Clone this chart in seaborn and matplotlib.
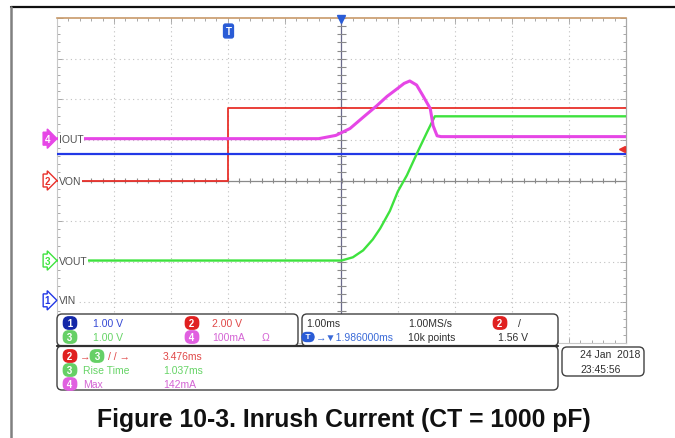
import numpy as np
import pandas as pd
import matplotlib
matplotlib.use("Agg")
import matplotlib.pyplot as plt
from matplotlib.patches import FancyBboxPatch
from matplotlib.lines import Line2D
from matplotlib.transforms import IdentityTransform
import seaborn as sns

# ---- captured waveforms (time in ms relative to trigger position) ----
von_t = [-5.0, -1.986, -1.986, 5.0]
von_v = [0.0, 0.0, 3.58, 3.58]                     # V, CH2

vin_t = [-5.0, 5.0]
vin_v = [3.60, 3.60]                               # V, CH1

vout_t = [-5.0, 0.0, 0.20, 0.38, 0.55, 0.68, 0.85, 0.99, 1.15, 1.34, 1.50, 1.64, 5.0]
vout_v = [0.0, 0.0, 0.08, 0.25, 0.52, 0.79, 1.22, 1.70, 2.10, 2.68, 3.15, 3.55, 3.55]  # V, CH3

iout_t = [-5.0, -0.40, -0.10, 0.15, 0.40, 0.62, 0.80, 0.98, 1.10, 1.20, 1.32, 1.43, 1.56, 1.61, 1.68, 1.75, 5.0]
iout_i = [0.0, 0.0, 8.0, 25.0, 55.0, 81.0, 104.0, 123.0, 136.0, 142.0, 132.0, 106.0, 74.0, 32.0, 7.0, 5.0, 5.0]  # mA, CH4

# channel settings: (scale per division, ground offset in divisions)
ch_scale = {"VIN": 1.00, "VON": 2.00, "VOUT": 1.00, "IOUT": 100.0}
ch_offset = {"VIN": -2.95, "VON": 0.0, "VOUT": -1.97, "IOUT": 1.03}
trig_level = 1.56     # V on CH2
trig_delay = -1.986   # ms

colors = {"VIN": "#2238e6", "VON": "#e8302a", "VOUT": "#3ee23e", "IOUT": "#e646e6"}
text_colors = {"VIN": "#3448d4", "VON": "#e04848", "VOUT": "#66d466", "IOUT": "#d464d4"}

sns.set_theme(style="white")
plt.rcParams["font.family"] = ["Liberation Sans", "DejaVu Sans"]

W, H = 675, 439
fig = plt.figure(figsize=(W / 100, H / 100), dpi=100)
fig.patch.set_facecolor("white")

# screen area in pixels
L, R, T, B = 57, 626, 19, 344
ax = fig.add_axes([L / W, 1 - B / H, (R - L) / W, (B - T) / H])
ax.set_xlim(-5, 5)
ax.set_ylim(-4, 4)
ax.set_facecolor("white")

# graticule
for xv in np.arange(-4, 5, 1):
    if xv != 0:
        ax.axvline(xv, color="#c0c0c0", lw=0.8, ls=(0, (1, 3)), zorder=1)
for yv in np.arange(-3, 4, 1):
    if yv != 0:
        ax.axhline(yv, color="#c0c0c0", lw=0.8, ls=(0, (1, 3)), zorder=1)
ax.axhline(0, color="#8a8a8a", lw=0.9, zorder=1)
ax.axvline(0, color="#6a6a8a", lw=0.9, zorder=1)
tx = np.arange(-5, 5.01, 0.2)
ty = np.arange(-4, 4.01, 0.2)
ax.vlines(tx, -0.06, 0.06, color="#8a8a8a", lw=0.8, zorder=1)
ax.hlines(ty, -0.08, 0.08, color="#8a8a8a", lw=0.8, zorder=1)
ax.set_xticks(np.arange(-5, 5.01, 1))
ax.set_yticks(np.arange(-4, 4.01, 1))
ax.set_xticks(tx, minor=True)
ax.set_yticks(ty, minor=True)
ax.tick_params(which="both", direction="in", top=True, right=True, bottom=True, left=True,
               labelbottom=False, labelleft=False, color="#a8a8a8", width=0.7)
ax.tick_params(which="major", length=4)
ax.tick_params(which="minor", length=2)
for side in ["left", "bottom"]:
    ax.spines[side].set_color("#c8c8c8")
    ax.spines[side].set_linewidth(0.8)
ax.spines["right"].set_color("#a8a8a8")
ax.spines["right"].set_linewidth(0.9)
ax.spines["top"].set_color("#c89a6a")
ax.spines["top"].set_linewidth(1.2)


def to_div(name, vals):
    return np.asarray(vals, dtype=float) / ch_scale[name] + ch_offset[name]


traces = [("VON", von_t, von_v, 1.3), ("VIN", vin_t, vin_v, 1.6),
          ("VOUT", vout_t, vout_v, 1.7), ("IOUT", iout_t, iout_i, 2.2)]
for name, t, v, lw in traces:
    df = pd.DataFrame({"t": t, "div": to_div(name, v)})
    sns.lineplot(data=df, x="t", y="div", ax=ax, color=colors[name], lw=lw,
                 estimator=None, sort=False, zorder=3)
ax.set_xlabel("")
ax.set_ylabel("")

# channel ground markers and names
badge_x = -5.17
for name, num, filled in [("IOUT", "4", True), ("VON", "2", False),
                          ("VOUT", "3", False), ("VIN", "1", False)]:
    y = ch_offset[name]
    fc = colors[name] if filled else "white"
    tc = "white" if filled else colors[name]
    ax.text(badge_x, y, num, color=tc, fontsize=7, fontweight="bold", ha="center", va="center",
            clip_on=False, zorder=5,
            bbox=dict(boxstyle="rarrow,pad=0.15", fc=fc, ec=colors[name], lw=1.0))
    ax.text(-4.97, y, name, color="#505050", fontsize=7.5, ha="left", va="center",
            zorder=5, bbox=dict(boxstyle="square,pad=0.1", fc="white", ec="none"))

# trigger position marker and trigger level marker
ax.text(trig_delay, 3.68, "T", color="white", fontsize=7, fontweight="bold", ha="center",
        va="center", zorder=5, bbox=dict(boxstyle="round,pad=0.2", fc="#2a5cd6", ec="#2a5cd6"))
ax.plot([0], [3.97], marker="v", color="#2a5cd6", ms=6, clip_on=False, zorder=5)
ax.plot([4.93], [trig_level / ch_scale["VON"] + ch_offset["VON"]], marker="<", color="#e8302a",
        ms=5, clip_on=False, zorder=5)

# ---- readout panels (pixel coordinates) ----
pix = IdentityTransform()


def box(x0, y0, x1, y1, lw=1.0, ec="#404040", r=5):
    p = FancyBboxPatch((x0, H - y1), x1 - x0, y1 - y0,
                       boxstyle=f"round,pad=0,rounding_size={r}",
                       transform=pix, fc="white", ec=ec, lw=lw, zorder=10)
    fig.add_artist(p)


def txt(x, y, s, color="#303030", size=7.5, ha="left", **kw):
    fig.text(x / W, 1 - y / H, s, color=color, fontsize=size, ha=ha, va="center", zorder=12, **kw)


def badge(x, y, s, color, size=7):
    fig.text(x / W, 1 - y / H, f" {s} ", color="white", fontsize=size, fontweight="bold", ha="center",
             va="center", zorder=12,
             bbox=dict(boxstyle="round,pad=0.12,rounding_size=0.55", fc=color, ec=color))


box(57, 347, 558, 391)
box(57, 315, 298, 347)
box(302, 315, 558, 347)
box(562, 348, 644, 377)
fig.add_artist(Line2D([57, 558], [H - 347, H - 347], transform=pix, color="#303030", lw=1.6, zorder=11))

badge(70, 324, "1", "#1428a8")
txt(93, 324, "1.00 V", text_colors["VIN"])
badge(192, 324, "2", "#e02020")
txt(212, 324, "2.00 V", text_colors["VON"])
badge(70, 338, "3", "#66d066")
txt(93, 338, "1.00 V", text_colors["VOUT"])
badge(192, 338, "4", "#e060e0")
txt(212, 338, "100mA", text_colors["IOUT"])
txt(262, 338, "\u03a9", text_colors["IOUT"])

txt(306, 324, "1.00ms")
txt(408, 324, "1.00MS/s")
badge(500, 324, "2", "#e02020")
txt(518, 324, "/")
badge(308, 338, "T", "#2a5cd6", size=6)
txt(316, 338, "\u2192\u25bc1.986000ms", "#3a6ad8")
txt(408, 338, "10k points")
txt(498, 338, "1.56 V")

badge(70, 357, "2", "#e02020")
txt(80, 357, "\u2192", text_colors["VON"])
badge(97, 357, "3", "#66d066")
txt(108, 357, "/ / \u2192", text_colors["VON"])
txt(163, 357, "3.476ms", text_colors["VON"])
badge(70, 371, "3", "#66d066")
txt(83, 371, "Rise Time", text_colors["VOUT"])
txt(163, 371, "1.037ms", text_colors["VOUT"])
badge(70, 385, "4", "#e060e0")
txt(83, 385, "Max", text_colors["IOUT"])
txt(163, 385, "142mA", text_colors["IOUT"])

txt(580, 355, "24 Jan  2018")
txt(580, 370, "23:45:56")

# page frame and caption
fig.add_artist(Line2D([11, W], [H - 8, H - 8], transform=pix, color="#101010", lw=1.6, zorder=11))
fig.add_artist(Line2D([11, 11], [0, H - 8], transform=pix, color="#808080", lw=1.8, zorder=11))
fig.text(344 / W, 1 - 420 / H, "Figure 10-3. Inrush Current (CT = 1000 pF)", fontsize=17.8,
         fontweight="bold", ha="center", va="center", color="#111111")

fig.savefig("out.png", dpi=100)
